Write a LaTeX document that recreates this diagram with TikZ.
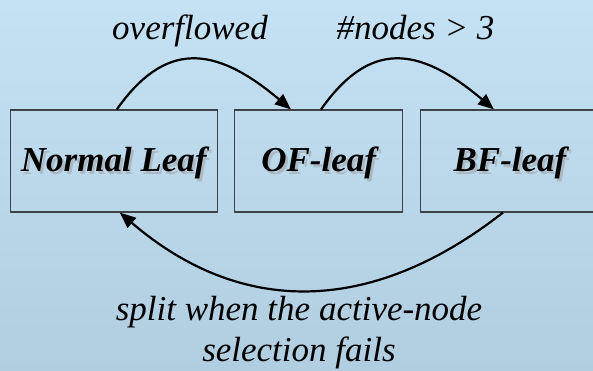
\documentclass[tikz,border=0pt]{standalone}
\usepackage{fontspec}
\setmainfont{Liberation Serif}
\usetikzlibrary{arrows.meta,calc}

\definecolor{bgtop}{RGB}{197,226,244}
\definecolor{bgbot}{RGB}{177,205,224}
\definecolor{boxline}{RGB}{60,66,72}
\definecolor{txtshadow}{RGB}{172,184,194}

% bold italic text with a soft grey copy behind it
\newcommand{\leaftext}[1]{\makebox[0pt][l]{\hspace{2.5pt}\raisebox{-2.5pt}{\textcolor{txtshadow}{#1}}}#1}

\begin{document}
\begin{tikzpicture}[x=1pt,y=-1pt,
  leaf/.style={draw=boxline,line width=1.1pt,inner sep=0pt,minimum height=102pt,
    text height=28pt,text depth=6pt,
    font=\fontsize{35}{40}\selectfont\bfseries\itshape},
  lbl/.style={font=\fontsize{35}{41}\selectfont\itshape,align=center,anchor=base,inner sep=0pt},
  arr/.style={line width=2.2pt,-{Triangle[length=16pt,width=13pt]}}]
\shade[top color=bgtop,bottom color=bgbot] (0,0) rectangle (593,371);
\useasboundingbox (0,0) rectangle (593,371);

\node[leaf,minimum width=207pt] (normal) at (113.8,161) {\leaftext{Normal Leaf}};
\node[leaf,minimum width=168pt] (ofleaf) at (318.6,161) {\leaftext{OF-leaf}};
\node[leaf,minimum width=179pt] (bfleaf) at (510,161) {\leaftext{BF-leaf}};

\node[lbl] (over) at (190,39.5) {overflowed};
\node[lbl] (count) at (415.5,39.5) {\#nodes > 3};
% base anchor sits on the last line here
\node[lbl] (split) at (299,361.5) {split when the active-node\\selection fails};

% normal -> OF -> BF across the top, back to normal underneath
\draw[arr] ([xshift=3pt]normal.north) .. controls +(48,-68) and +(-77,-65) .. ([xshift=-27.6pt]ofleaf.north);
\draw[arr] ([xshift=2.4pt]ofleaf.north) .. controls +(48,-68) and +(-77,-65) .. ([xshift=-16pt]bfleaf.north);
\draw[arr] ([xshift=-7pt]bfleaf.south) .. controls +(-133,104) and +(120,103) .. ([xshift=6pt]normal.south);
\end{tikzpicture}
\end{document}
